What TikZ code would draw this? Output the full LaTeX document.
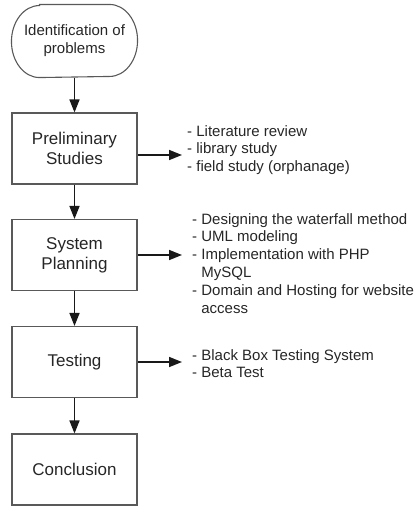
\documentclass[tikz,border=0pt]{standalone}
\usepackage{fontspec}
\setmainfont{Liberation Sans}
\usetikzlibrary{arrows.meta}
\begin{document}
\begin{tikzpicture}[x=1pt,y=-1pt,
  stepbox/.style={draw=black!65, line width=1.1pt, minimum width=125pt, minimum height=71pt,
    align=center, inner sep=0pt, font=\fontsize{17}{20}\selectfont, text=black!85},
  startbox/.style={stepbox, draw=none, minimum height=72pt, font=\fontsize{15}{18}\selectfont},
  listtext/.style={anchor=north west, align=left, inner sep=0pt, text=black!85,
    font=\fontsize{15}{17.8}\selectfont},
  arr/.style={line width=1.6pt, draw=black!90, -{Triangle[length=13pt,width=10pt]}}]
\useasboundingbox (0,0) rectangle (415,506);

% main flow
\node[startbox] (ident) at (74.5,41) {Identification of\\problems};
% terminator outline with elliptical ends
\draw[draw=black!65, line width=1.1pt]
  ([xshift=28pt]ident.north west) -- ([xshift=-28pt]ident.north east)
  arc[start angle=90, end angle=-90, x radius=28pt, y radius=36pt]
  -- ([xshift=28pt]ident.south west)
  arc[start angle=270, end angle=90, x radius=28pt, y radius=36pt] -- cycle;
\node[stepbox] (prel) at (74.5,148.5) {Preliminary\\Studies};
\node[stepbox] (plan) at (74.5,255) {System\\Planning};
\node[stepbox] (test) at (74.5,362) {Testing};
\node[stepbox] (concl) at (74.5,469.5) {Conclusion};

\draw[arr] (ident) -- (prel);
\draw[arr] (prel) -- (plan);
\draw[arr] (plan) -- (test);
\draw[arr] (test) -- (concl);

% side lists
\node[listtext] (prelnotes) at (187,125) {- Literature review\\- library study\\- field study (orphanage)};
\node[listtext] (plannotes) at (192,213) {- Designing the waterfall method\\- UML modeling\\- Implementation with PHP\\\phantom{- }MySQL\\- Domain and Hosting for website\\\phantom{- }access};
\node[listtext] (testnotes) at (192,349) {- Black Box Testing System\\- Beta Test};

\coordinate (p1) at (182,155);
\coordinate (p2) at (182,255);
\coordinate (p3) at (182,362);
\draw[arr] (prel.east |- p1) -- (p1);
\draw[arr] (plan.east |- p2) -- (p2);
\draw[arr] (test.east |- p3) -- (p3);
\end{tikzpicture}
\end{document}
